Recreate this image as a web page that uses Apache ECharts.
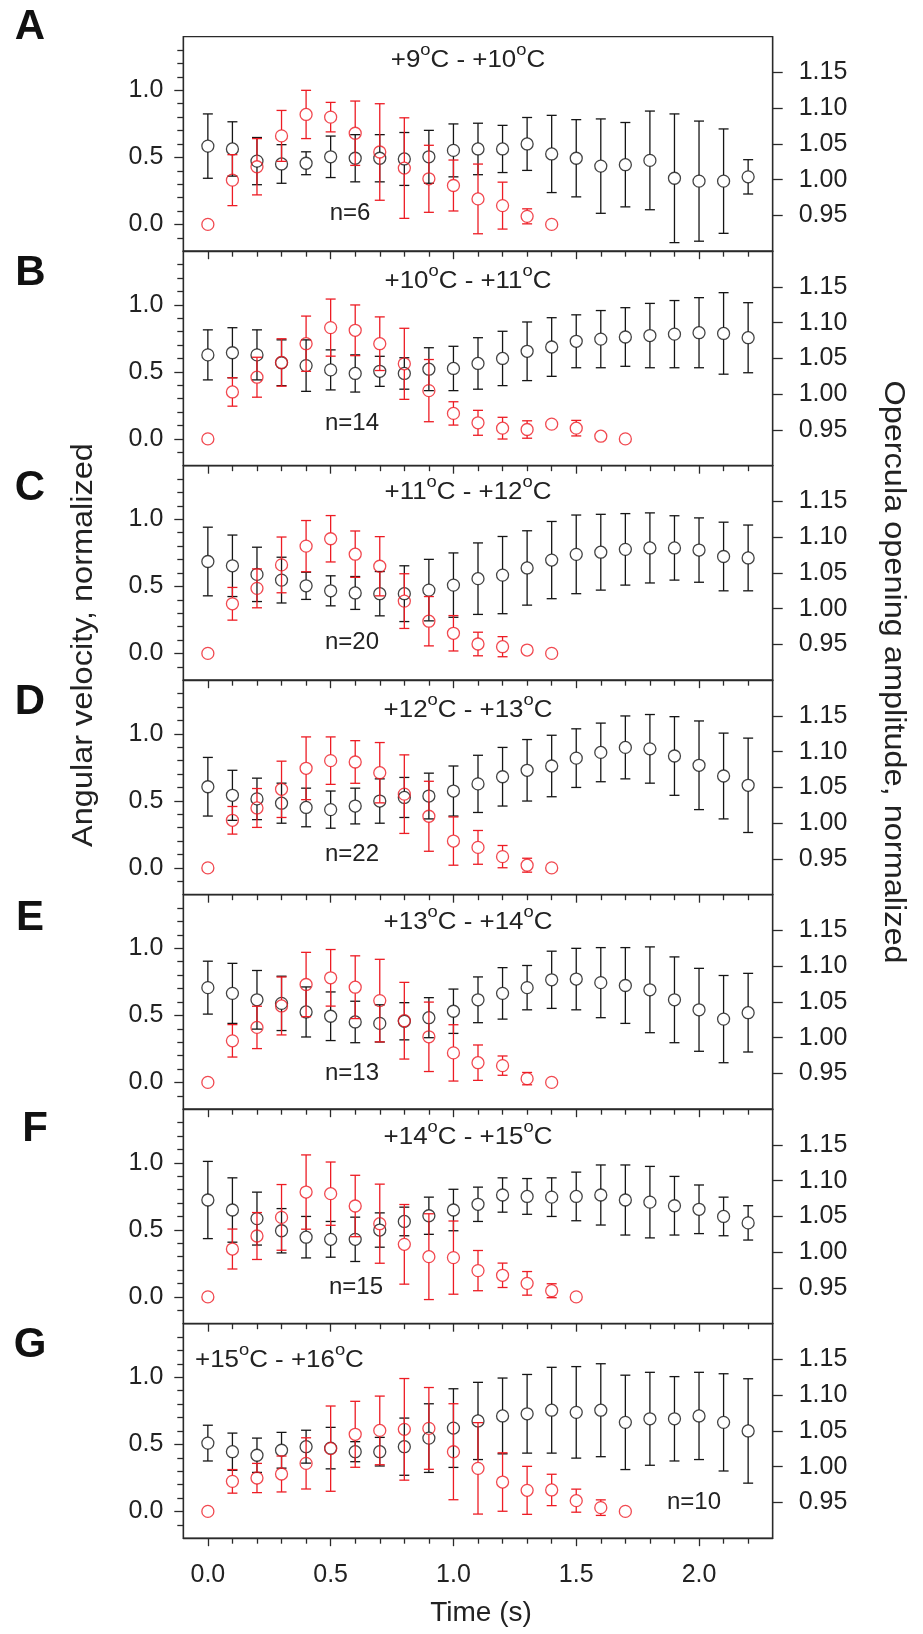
<!DOCTYPE html>
<html>
<head>
<meta charset="utf-8">
<script src="https://cdn.jsdelivr.net/npm/echarts@6/dist/echarts.min.js"></script>
<style>
html,body{margin:0;padding:0;background:#fff;}
#chart{width:923px;height:1634px;}
</style>
</head>
<body>
<div id="chart"></div>
<script>
// ---------- data ----------
const times = [0.0,0.1,0.2,0.3,0.4,0.5,0.6,0.7,0.8,0.9,1.0,1.1,1.2,1.3,1.4,1.5,1.6,1.7,1.8,1.9,2.0,2.1,2.2];
const panelLetters = ['A','B','C','D','E','F','G'];
const tempFrom = ['+9','+10','+11','+12','+13','+14','+15'];
const tempTo = ['+10','+11','+12','+13','+14','+15','+16'];
const sampleSizes = ['n=6','n=14','n=20','n=22','n=13','n=15','n=10'];
const xTickLabels = ['0.0','0.5','1.0','1.5','2.0'];
const xMinorTicks = [0.1,0.2,0.3,0.4,0.6,0.7,0.8,0.9,1.1,1.2,1.3,1.4,1.6,1.7,1.8,1.9,2.1,2.2];
const leftTickLabels = ['0.0','0.5','1.0'];
const leftMinorTicks = [-0.1,0.1,0.2,0.3,0.4,0.6,0.7,0.8,0.9,1.1,1.2,1.3];
const rightTickLabels = ['0.95','1.00','1.05','1.10','1.15'];
const leftTitle = 'Angular velocity, normalized';
const rightTitle = 'Opercula opening amplitude, normalized';
const xTitle = 'Time (s)';

// Opercula opening amplitude (black, right axis) and its error
const ampA = [1.047,1.043,1.026,1.022,1.023,1.032,1.030,1.030,1.029,1.032,1.041,1.043,1.043,1.050,1.036,1.030,1.019,1.021,1.027,1.002,0.998,0.998,1.004];
const ampErrA = [0.045,0.038,0.033,0.027,0.016,0.029,0.033,0.033,0.037,0.037,0.037,0.036,0.033,0.037,0.054,0.054,0.066,0.059,0.069,0.090,0.084,0.073,0.024];
const ampB = [1.055,1.058,1.055,1.044,1.040,1.034,1.029,1.032,1.029,1.035,1.036,1.043,1.050,1.060,1.066,1.074,1.077,1.080,1.082,1.084,1.086,1.085,1.079];
const ampErrB = [0.035,0.035,0.035,0.032,0.036,0.028,0.026,0.021,0.022,0.030,0.031,0.036,0.038,0.041,0.041,0.037,0.040,0.041,0.045,0.047,0.049,0.057,0.049];
const ampC = [1.066,1.060,1.048,1.040,1.032,1.025,1.022,1.021,1.021,1.026,1.033,1.042,1.047,1.057,1.068,1.076,1.079,1.083,1.085,1.085,1.082,1.073,1.071];
const ampErrC = [0.048,0.043,0.038,0.032,0.019,0.021,0.023,0.031,0.039,0.043,0.045,0.050,0.054,0.052,0.054,0.055,0.053,0.050,0.049,0.045,0.045,0.048,0.046];
const ampD = [1.051,1.039,1.034,1.028,1.022,1.019,1.024,1.031,1.036,1.038,1.045,1.055,1.065,1.074,1.080,1.091,1.099,1.106,1.104,1.094,1.081,1.066,1.053];
const ampErrD = [0.041,0.035,0.029,0.028,0.027,0.026,0.025,0.031,0.028,0.032,0.035,0.040,0.041,0.043,0.043,0.041,0.041,0.044,0.048,0.055,0.062,0.060,0.066];
const ampE = [1.070,1.062,1.053,1.048,1.036,1.030,1.022,1.020,1.023,1.028,1.037,1.053,1.062,1.070,1.081,1.082,1.077,1.073,1.067,1.053,1.039,1.026,1.035];
const ampErrE = [0.037,0.042,0.041,0.038,0.035,0.034,0.029,0.026,0.026,0.028,0.031,0.032,0.036,0.031,0.040,0.043,0.049,0.053,0.060,0.060,0.058,0.061,0.055];
const ampF = [1.073,1.059,1.047,1.030,1.021,1.018,1.018,1.031,1.043,1.051,1.059,1.067,1.080,1.078,1.077,1.078,1.080,1.073,1.070,1.065,1.060,1.050,1.041];
const ampErrF = [0.054,0.045,0.037,0.031,0.029,0.025,0.031,0.024,0.020,0.026,0.029,0.024,0.024,0.025,0.027,0.034,0.042,0.049,0.050,0.041,0.034,0.027,0.024];
const ampG = [1.033,1.021,1.016,1.023,1.028,1.026,1.021,1.021,1.028,1.040,1.054,1.064,1.071,1.074,1.079,1.076,1.079,1.062,1.067,1.067,1.071,1.062,1.050];
const ampErrG = [0.025,0.026,0.024,0.025,0.023,0.029,0.014,0.020,0.040,0.048,0.055,0.054,0.053,0.055,0.060,0.064,0.065,0.066,0.065,0.059,0.061,0.068,0.073];

// Angular velocity (red, left axis) and its error
const velA = [0.00,0.33,0.43,0.66,0.82,0.80,0.68,0.54,0.42,0.34,0.29,0.19,0.14,0.06,0.00];
const velErrA = [0,0.19,0.21,0.19,0.18,0.11,0.24,0.36,0.375,0.25,0.19,0.26,0.175,0.056,0];
const velB = [0.00,0.35,0.46,0.57,0.71,0.83,0.81,0.71,0.56,0.36,0.19,0.12,0.08,0.07,0.11,0.08,0.02,0.00];
const velErrB = [0,0.106,0.149,0.177,0.206,0.213,0.189,0.20,0.265,0.232,0.087,0.093,0.081,0.065,0,0.058,0,0];
const velC = [0.00,0.37,0.485,0.66,0.80,0.855,0.74,0.65,0.39,0.24,0.15,0.07,0.05,0.025,0.00];
const velErrC = [0,0.122,0.145,0.208,0.191,0.173,0.173,0.221,0.204,0.184,0.132,0.088,0.075,0,0];
const velD = [0.00,0.355,0.447,0.586,0.743,0.80,0.79,0.71,0.55,0.385,0.20,0.153,0.084,0.02,0.00];
const velErrD = [0,0.103,0.145,0.21,0.234,0.177,0.159,0.225,0.293,0.261,0.18,0.126,0.083,0.052,0];
const velE = [0.00,0.31,0.41,0.57,0.73,0.78,0.71,0.61,0.46,0.34,0.22,0.147,0.125,0.028,0.00];
const velErrE = [0,0.121,0.158,0.216,0.24,0.211,0.234,0.308,0.286,0.259,0.21,0.132,0.072,0.046,0];
const velF = [0.00,0.357,0.454,0.593,0.782,0.77,0.678,0.546,0.392,0.30,0.293,0.196,0.161,0.101,0.046,0.00];
const velErrF = [0,0.149,0.175,0.245,0.277,0.236,0.229,0.295,0.297,0.32,0.273,0.15,0.091,0.088,0.052,0];
const velG = [0.00,0.224,0.249,0.279,0.358,0.468,0.575,0.604,0.612,0.619,0.445,0.321,0.219,0.157,0.16,0.08,0.028,0.00];
const velErrG = [0,0.088,0.109,0.134,0.191,0.318,0.246,0.256,0.379,0.305,0.358,0.341,0.218,0.179,0.117,0.086,0.058,0];

// ---------- layout / style ----------
const FONT = '"Liberation Sans", Arial, Helvetica, sans-serif';
const TXT = '#222';
const FRAME = '#2a2a2a';
const BLACK = '#151515';
const RED = '#ed1c24';
const GRID_LEFT = 183.3, GRID_W = 589.4, GRID_TOP = 36.7, GRID_H = 214.5;

const panels = [
  {amp: ampA, ampErr: ampErrA, vel: velA, velErr: velErrA},
  {amp: ampB, ampErr: ampErrB, vel: velB, velErr: velErrB},
  {amp: ampC, ampErr: ampErrC, vel: velC, velErr: velErrC},
  {amp: ampD, ampErr: ampErrD, vel: velD, velErr: velErrD},
  {amp: ampE, ampErr: ampErrE, vel: velE, velErr: velErrE},
  {amp: ampF, ampErr: ampErrF, vel: velF, velErr: velErrF},
  {amp: ampG, ampErr: ampErrG, vel: velG, velErr: velErrG}
];

const xMajor = xTickLabels.map(Number);
const leftMajor = leftTickLabels.map(Number);
const rightMajor = rightTickLabels.map(Number);
function pick(labels, vals) {
  return function (v) {
    for (let i = 0; i < vals.length; i++) if (Math.abs(vals[i] - v) < 1e-6) return labels[i];
    return '';
  };
}

function errBar(color) {
  return function (params, api) {
    const x = api.value(0), y = api.value(1), e = api.value(2);
    if (!(e > 0)) return {type: 'group', children: []};
    const c = api.coord([x, y]);
    const hi = api.coord([x, y + e]);
    const lo = api.coord([x, y - e]);
    const r = 6, w = 5;
    const st = () => ({stroke: color, lineWidth: 1.3, fill: null});
    const ch = [];
    if (c[1] - r > hi[1]) ch.push({type: 'line', shape: {x1: c[0], y1: hi[1], x2: c[0], y2: c[1] - r}, style: st()});
    if (lo[1] > c[1] + r) ch.push({type: 'line', shape: {x1: c[0], y1: c[1] + r, x2: c[0], y2: lo[1]}, style: st()});
    ch.push({type: 'line', shape: {x1: c[0] - w, y1: hi[1], x2: c[0] + w, y2: hi[1]}, style: st()});
    ch.push({type: 'line', shape: {x1: c[0] - w, y1: lo[1], x2: c[0] + w, y2: lo[1]}, style: st()});
    return {type: 'group', children: ch};
  };
}

const grids = [], xAxes = [], yAxes = [], series = [], graphics = [];
const lineStyle = {color: FRAME, width: 1.3};
const labelStyle = {color: TXT, fontFamily: FONT, fontSize: 25};

const titleY = [60.8, 281.6, 492.5, 710, 922.6, 1137.6, 1360];
const nPos = [[350,213],[352,423],[352,642],[352,854],[352,1073],[356,1287],[694,1502]];
const letterPos = [[30,27],[30.5,273.5],[30,488],[30,702],[30,918],[35,1129],[30,1345]];

panels.forEach((p, i) => {
  const top = GRID_TOP + GRID_H * i;
  grids.push({left: GRID_LEFT, top: top, width: GRID_W, height: GRID_H, show: true,
    borderColor: FRAME, borderWidth: 1.3, backgroundColor: 'transparent'});
  // x axes (major ticks + labels, minor ticks)
  xAxes.push({gridIndex: i, type: 'value', min: -0.1, max: 2.3, interval: 0.1, position: 'bottom',
    axisLine: {show: true, onZero: false, lineStyle: lineStyle},
    axisTick: {show: true, inside: false, length: 8, customValues: xMajor, lineStyle: lineStyle},
    axisLabel: {show: i === 6, customValues: xMajor, formatter: pick(xTickLabels, xMajor), margin: 24, ...labelStyle},
    splitLine: {show: false}});
  xAxes.push({gridIndex: i, type: 'value', min: -0.1, max: 2.3, interval: 0.1, position: 'bottom',
    axisLine: {show: false, onZero: false},
    axisTick: {show: true, inside: false, length: 5.5, customValues: xMinorTicks, lineStyle: lineStyle},
    axisLabel: {show: false}, splitLine: {show: false}});
  // y axes: left main, left minor, right
  yAxes.push({gridIndex: i, type: 'value', min: -0.2, max: 1.4, interval: 0.1, position: 'left',
    axisLine: {show: true, onZero: false, lineStyle: lineStyle},
    axisTick: {show: true, inside: false, length: 9, customValues: leftMajor, lineStyle: lineStyle},
    axisLabel: {show: true, customValues: leftMajor, formatter: pick(leftTickLabels, leftMajor), margin: 20, ...labelStyle},
    splitLine: {show: false}});
  yAxes.push({gridIndex: i, type: 'value', min: -0.2, max: 1.4, interval: 0.1, position: 'left',
    axisLine: {show: false, onZero: false},
    axisTick: {show: true, inside: false, length: 6, customValues: leftMinorTicks, lineStyle: lineStyle},
    axisLabel: {show: false}, splitLine: {show: false}});
  yAxes.push({gridIndex: i, type: 'value', min: 0.9, max: 1.2, interval: 0.05, position: 'right',
    axisLine: {show: true, onZero: false, lineStyle: lineStyle},
    axisTick: {show: true, inside: false, length: 10, customValues: rightMajor, lineStyle: lineStyle},
    axisLabel: {show: true, customValues: rightMajor, formatter: pick(rightTickLabels, rightMajor), margin: 26, ...labelStyle},
    splitLine: {show: false}});

  const xi = 2 * i, yl = 3 * i, yr = 3 * i + 2;
  const blackData = p.amp.map((v, k) => [times[k], v, p.ampErr[k]]);
  const redData = p.vel.map((v, k) => [times[k], v, p.velErr[k]]);
  series.push({type: 'custom', xAxisIndex: xi, yAxisIndex: yr, renderItem: errBar(BLACK),
    data: blackData, encode: {x: 0, y: 1}, silent: true, z: 2});
  series.push({type: 'scatter', xAxisIndex: xi, yAxisIndex: yr, symbol: 'circle', symbolSize: 12,
    data: blackData.map(d => [d[0], d[1]]),
    itemStyle: {color: 'rgba(0,0,0,0)', borderColor: BLACK, borderWidth: 1.3}, silent: true, z: 3});
  series.push({type: 'custom', xAxisIndex: xi, yAxisIndex: yl, renderItem: errBar(RED),
    data: redData, encode: {x: 0, y: 1}, silent: true, z: 4});
  series.push({type: 'scatter', xAxisIndex: xi, yAxisIndex: yl, symbol: 'circle', symbolSize: 12,
    data: redData.map(d => [d[0], d[1]]),
    itemStyle: {color: 'rgba(0,0,0,0)', borderColor: RED, borderWidth: 1.3}, silent: true, z: 5});

  // panel title with superscript "o"
  const txt = '{m|' + tempFrom[i] + '}{s|o}{m|C - ' + tempTo[i] + '}{s|o}{m|C}';
  graphics.push({type: 'text', x: i === 6 ? 195 : 468, y: titleY[i], scaleX: 1.08, silent: true,
    style: {text: txt, align: i === 6 ? 'left' : 'center', verticalAlign: 'middle',
      rich: {
        m: {fontSize: 24, fontFamily: FONT, fill: TXT, lineHeight: 26},
        s: {fontSize: 17, fontFamily: FONT, fill: TXT, lineHeight: 26, padding: [0, 0, 20, 0]}
      }}});
  graphics.push({type: 'text', x: nPos[i][0], y: nPos[i][1], silent: true,
    style: {text: sampleSizes[i], align: 'center', verticalAlign: 'middle', fontSize: 24, fontFamily: FONT, fill: TXT}});
  graphics.push({type: 'text', x: letterPos[i][0], y: letterPos[i][1], silent: true,
    style: {text: panelLetters[i], align: 'center', verticalAlign: 'middle', fontSize: 42, fontWeight: 'bold', fontFamily: FONT, fill: '#111'}});
});

graphics.push({type: 'text', x: 84, y: 645, rotation: Math.PI / 2, scaleX: 1.12, silent: true,
  style: {text: leftTitle, align: 'center', verticalAlign: 'middle', fontSize: 29, fontFamily: FONT, fill: TXT}});
graphics.push({type: 'text', x: 893, y: 672, rotation: -Math.PI / 2, scaleX: 1.12, silent: true,
  style: {text: rightTitle, align: 'center', verticalAlign: 'middle', fontSize: 29, fontFamily: FONT, fill: TXT}});
graphics.push({type: 'text', x: 481, y: 1613, silent: true,
  style: {text: xTitle, align: 'center', verticalAlign: 'middle', fontSize: 28, fontFamily: FONT, fill: TXT}});

const chart = echarts.init(document.getElementById('chart'), null, {renderer: 'canvas'});
chart.setOption({
  animation: false,
  backgroundColor: '#fff',
  grid: grids,
  xAxis: xAxes,
  yAxis: yAxes,
  series: series,
  graphic: graphics
});
</script>
</body>
</html>
